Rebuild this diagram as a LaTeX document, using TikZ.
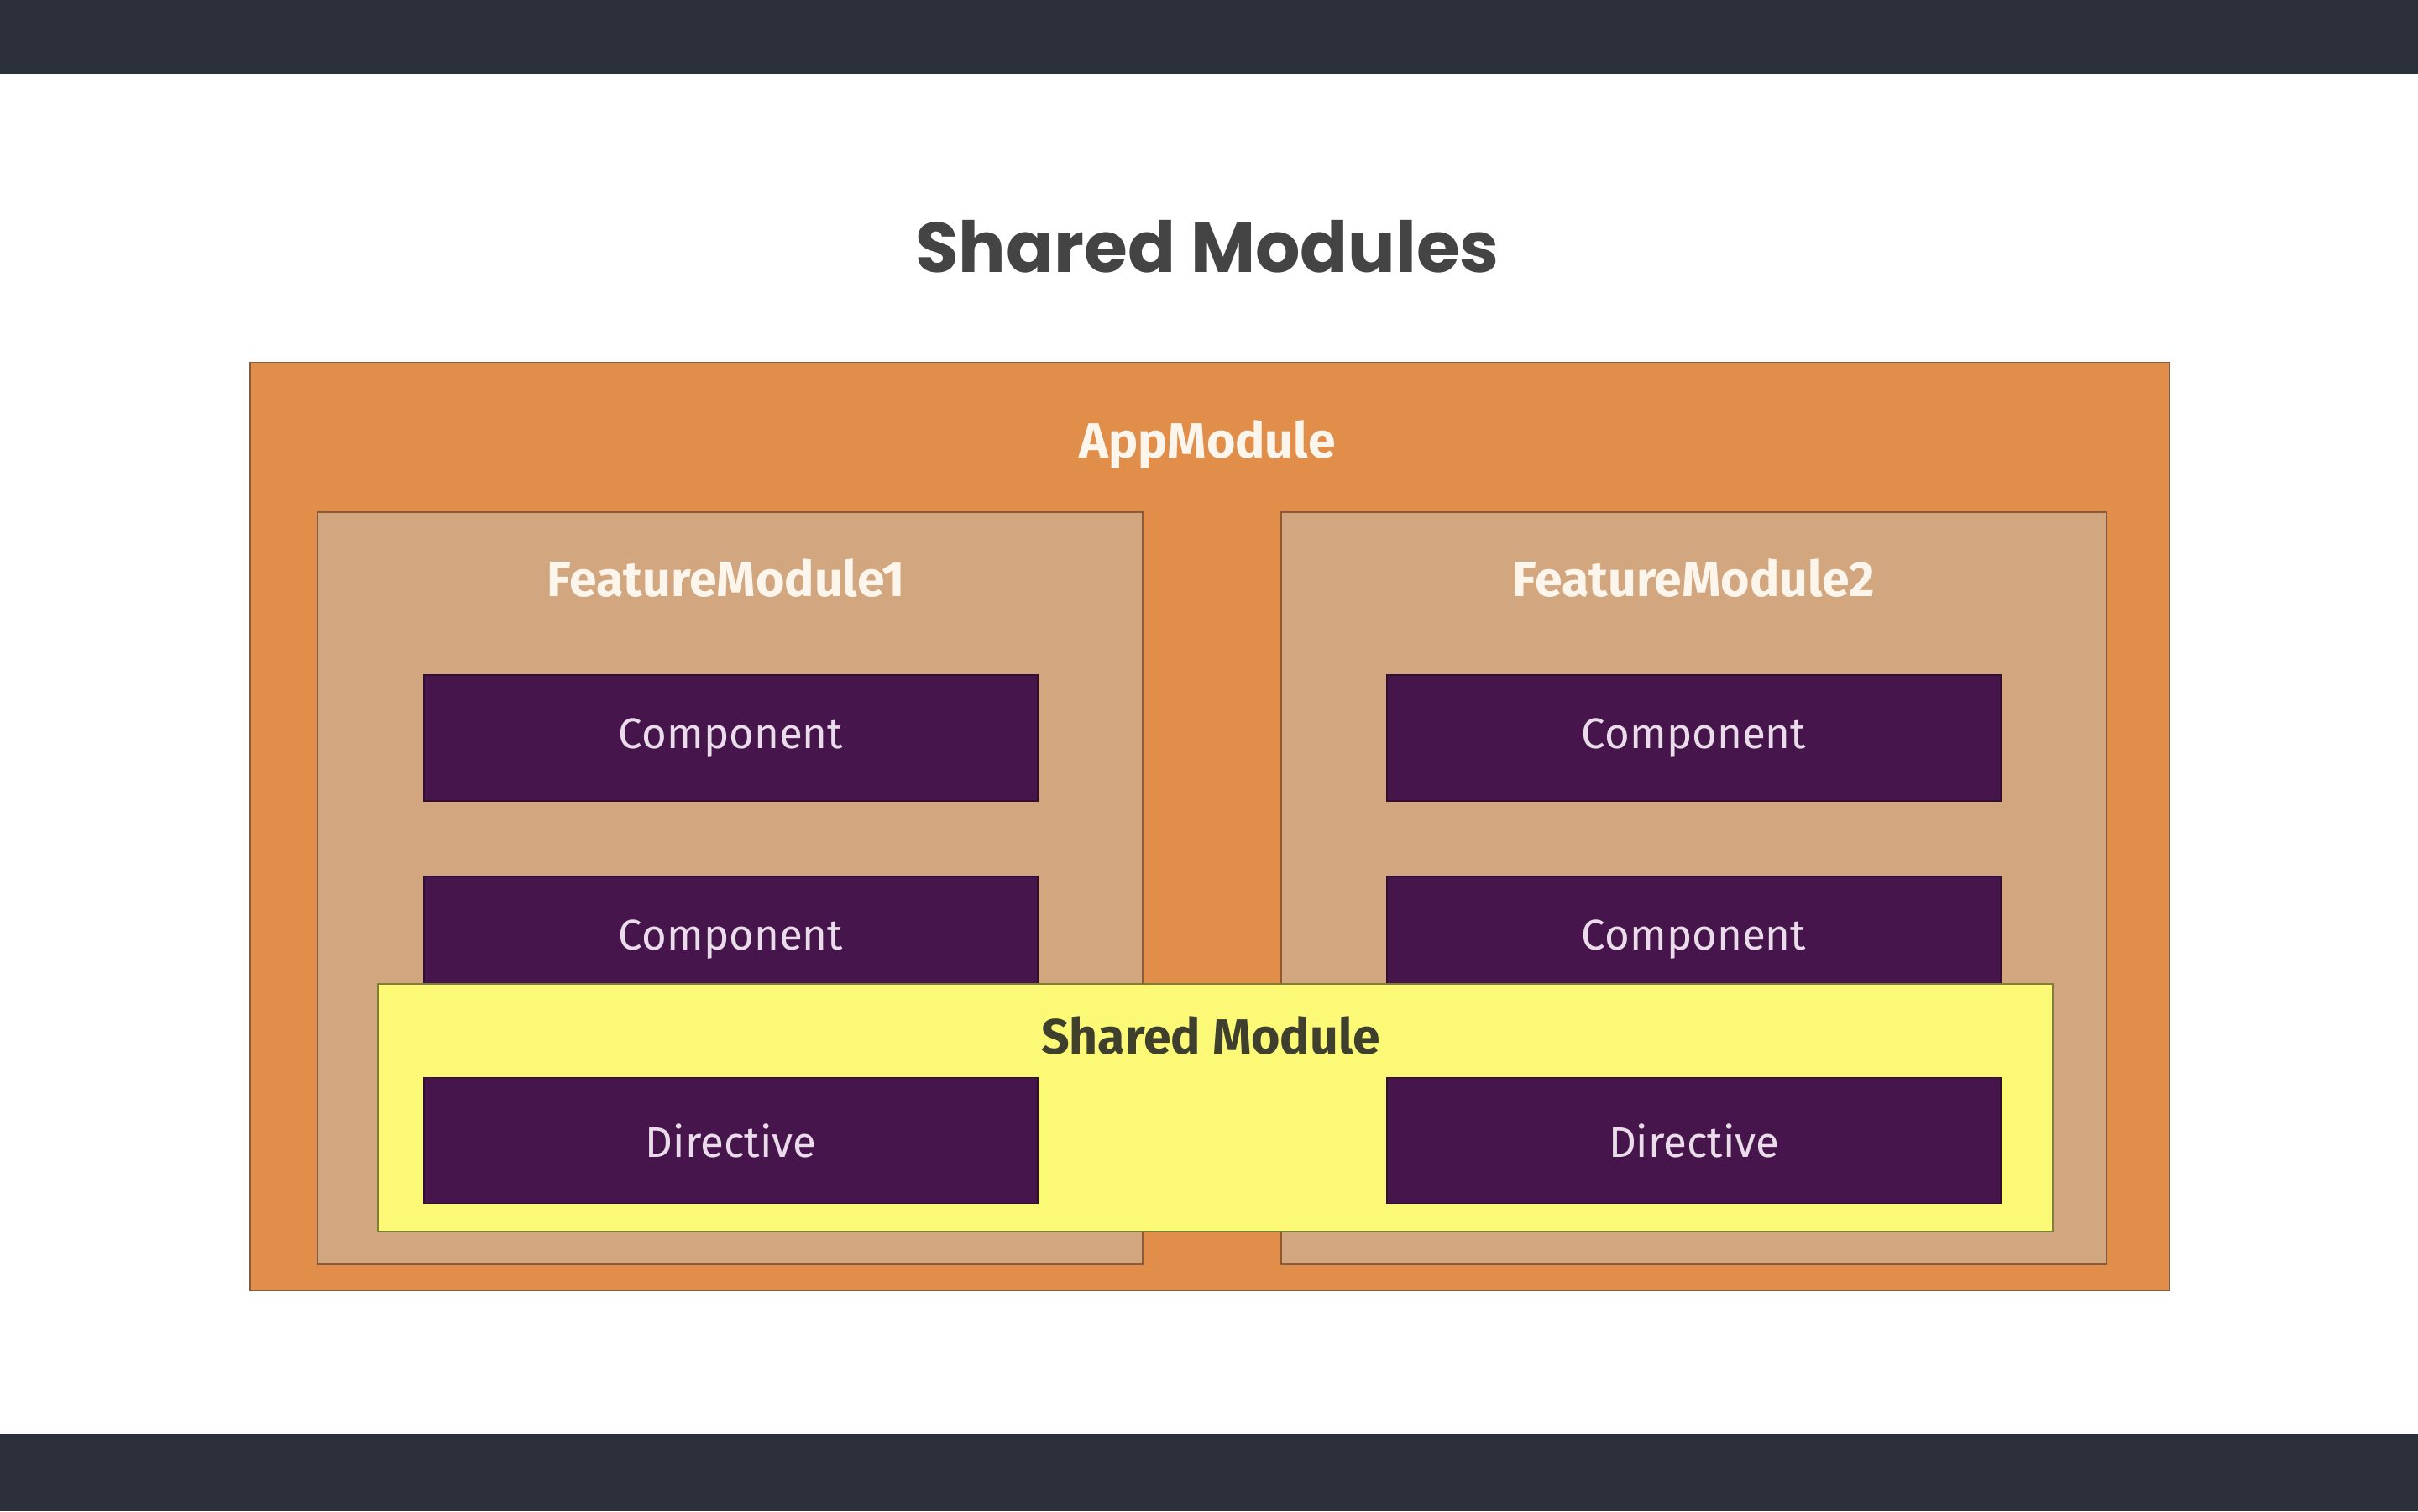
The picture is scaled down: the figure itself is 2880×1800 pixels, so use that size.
\documentclass[tikz,border=0pt]{standalone}
\usepackage{fontspec}
\setmainfont{Fira Sans}
\newfontfamily\titlefont{Poppins}
\definecolor{barcol}{HTML}{2B303B}
\definecolor{appcol}{HTML}{E08E4A}
\definecolor{featcol}{HTML}{D2A67E}
\definecolor{purp}{HTML}{46154B}
\definecolor{yel}{HTML}{FBF976}
\definecolor{edgecol}{HTML}{8A5A3A}
\definecolor{titlecol}{HTML}{444444}
\definecolor{lbl}{HTML}{FBF5EC}
\definecolor{complbl}{HTML}{EADCEA}
\definecolor{sharedlbl}{HTML}{3F3F2E}
\begin{document}
\begin{tikzpicture}[x=0.5pt,y=-0.5pt,
  box/.style={rectangle,inner sep=0pt,draw=edgecol,line width=0.8pt},
  purpbox/.style={box,fill=purp,draw=purp!70!black,minimum width=365.5pt,minimum height=75pt,
     text=complbl,font=\fontsize{25.5}{27}\selectfont},
  head/.style={text=lbl,font=\bfseries\fontsize{29.5}{31}\selectfont}]
\useasboundingbox (0,0) rectangle (2880,1800);
\fill[white] (0,0) rectangle (2880,1800);
\fill[barcol] (0,0) rectangle (2880,88);
\fill[barcol] (0,1708) rectangle (2880,1800);
\node[text=titlecol,font=\titlefont\bfseries\fontsize{42}{44}\selectfont] (title) at (1438,294) {Shared Modules};
\node[box,fill=appcol,minimum width=1143pt,minimum height=552.7pt] (app) at (1440.75,984.3) {};
\node[head] (applbl) at (1438,530) {AppModule};
\node[box,fill=featcol,minimum width=491.5pt,minimum height=448pt] (fm1) at (869.5,1058) {};
\node[box,fill=featcol,minimum width=491.5pt,minimum height=448pt] (fm2) at (2017.5,1058) {};
\node[head] (fm1lbl) at (865,689) {FeatureModule1};
\node[head] (fm2lbl) at (2017,689) {FeatureModule2};
\node[purpbox] (c11) at (870.5,879) {Component};
\node[purpbox] (c21) at (2017.5,879) {Component};
\node[purpbox] (c12) at (870.5,1119) {Component};
\node[purpbox] (c22) at (2017.5,1119) {Component};
\node[box,fill=yel,draw=yel!50!black,minimum width=997.5pt,minimum height=147.5pt] (shared) at (1447.5,1319.5) {};
\node[text=sharedlbl,font=\bfseries\fontsize{29.5}{31}\selectfont] (sharedlbl) at (1442,1234) {Shared Module};
\node[purpbox] (d1) at (870.5,1358.5) {Directive};
\node[purpbox] (d2) at (2017.5,1358.5) {Directive};
\end{tikzpicture}
\end{document}
